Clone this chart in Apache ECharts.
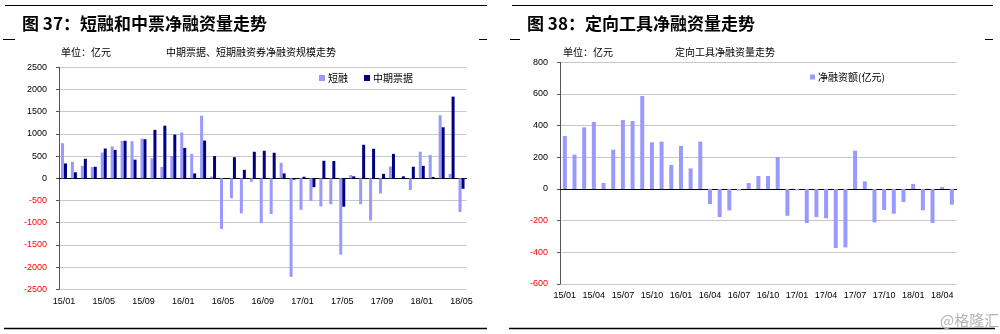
<!DOCTYPE html>
<html>
<head>
<meta charset="utf-8">
<script src="https://cdn.jsdelivr.net/npm/echarts@6/dist/echarts.min.js"></script>
<style>
  html, body { margin: 0; padding: 0; background: #fff; }
  #chart { width: 1000px; height: 334px; }
</style>
</head>
<body>
<div id="chart"></div>
<script>
// months 2015/01 - 2018/05
const months = [
  '15/01','15/02','15/03','15/04','15/05','15/06','15/07','15/08','15/09','15/10','15/11','15/12',
  '16/01','16/02','16/03','16/04','16/05','16/06','16/07','16/08','16/09','16/10','16/11','16/12',
  '17/01','17/02','17/03','17/04','17/05','17/06','17/07','17/08','17/09','17/10','17/11','17/12',
  '18/01','18/02','18/03','18/04','18/05'
];

// 图37: 短融 / 中期票据 net financing (亿元)
const shortNet = [790,370,280,255,580,720,845,835,895,450,255,500,1030,550,1410,40,-1140,-450,-790,-80,
  -1010,-805,350,-2220,-710,-510,-635,-585,-1720,75,-585,-950,-340,265,0,-265,600,525,1420,100,-760];
const mtnNet = [335,135,440,260,670,640,845,420,880,1090,1185,985,685,110,850,500,0,475,190,598,
  620,575,110,-30,35,-200,395,390,-640,45,755,665,100,550,45,260,280,30,1150,1840,-235];

// 图38: 定向工具 net financing (亿元)
const directNet = [335,217,389,423,38,248,436,429,587,295,299,152,272,130,299,-95,-177,-135,-9,38,
  82,82,202,-169,-8,-215,-177,-185,-373,-369,242,48,-211,-133,-156,-82,32,-135,-215,13,-99];

const CJK = '"Noto Sans CJK SC", sans-serif';
const NUM = '"Liberation Sans", Arial, sans-serif';
const LIGHT = '#9999ff';
const DARK = '#000080';

const negRed = v => (Number(v) < 0 ? '#ff0000' : '#000000');

function zeroAxis(grid, every) {
  return {
    gridIndex: grid, type: 'category', data: months, position: 'bottom',
    axisLine: { onZero: true, lineStyle: { color: '#000', width: 1 } },
    axisTick: { inside: true, length: 3, interval: every, lineStyle: { color: '#000' } },
    axisLabel: { show: false }
  };
}
function labelAxis(grid, every, margin) {
  return {
    gridIndex: grid, type: 'category', data: months, position: 'bottom',
    axisLine: { show: false, onZero: false },
    axisTick: { show: false },
    axisLabel: { interval: every, fontSize: 9, fontFamily: NUM, color: '#000', margin: margin }
  };
}
function valueAxis(grid, min, max, step) {
  return {
    gridIndex: grid, type: 'value', min: min, max: max, interval: step,
    axisLine: { show: true, lineStyle: { color: '#555', width: 1 } },
    axisTick: { show: true, length: 3, lineStyle: { color: '#555' } },
    splitLine: { lineStyle: { color: '#c8c8c8', width: 1.2 } },
    axisLabel: { fontSize: 9, fontFamily: NUM, margin: 12, color: negRed,
      formatter: v => String(v) }
  };
}

const line = (x1, y1, x2, y2, w) => ({
  type: 'line', silent: true,
  shape: { x1: x1, y1: y1, x2: x2, y2: y2 },
  style: { stroke: '#000', lineWidth: w }
});
const text = (x, y, s, font, fill) => ({
  type: 'text', silent: true, x: x, y: y,
  style: { text: s, font: font, fill: fill || '#000', textVerticalAlign: 'middle' }
});

const chart = echarts.init(document.getElementById('chart'), null, { renderer: 'canvas' });

chart.setOption({
  animation: false,
  backgroundColor: '#fff',
  textStyle: { fontFamily: NUM },
  grid: [
    { left: 59, top: 67.3, width: 407.5, height: 222 },
    { left: 560, top: 62.3, width: 396.7, height: 221.7 }
  ],
  legend: [
    {
      data: ['短融', '中期票据'], left: 319, top: 73, padding: 0,
      icon: 'rect', itemWidth: 6, itemHeight: 6, itemGap: 16,
      textStyle: { fontSize: 10, fontFamily: CJK, color: '#000', padding: [0, 0, 0, -2] }
    },
    {
      data: ['净融资额(亿元)'], left: 810, top: 72, padding: 0,
      icon: 'rect', itemWidth: 5, itemHeight: 5,
      textStyle: { fontSize: 10, fontFamily: CJK, color: '#000', padding: [0, 0, 0, -2] }
    }
  ],
  xAxis: [
    zeroAxis(0, 3),
    labelAxis(0, 3, 8),
    zeroAxis(1, 3),
    labelAxis(1, 2, 7)
  ],
  yAxis: [
    valueAxis(0, -2500, 2500, 500),
    valueAxis(1, -600, 800, 200)
  ],
  series: [
    { name: '短融', type: 'bar', xAxisIndex: 0, yAxisIndex: 0, data: shortNet,
      barWidth: 3, barGap: '0%', itemStyle: { color: LIGHT } },
    { name: '中期票据', type: 'bar', xAxisIndex: 0, yAxisIndex: 0, data: mtnNet,
      barWidth: 3, barGap: '0%', itemStyle: { color: DARK } },
    { name: '净融资额(亿元)', type: 'bar', xAxisIndex: 2, yAxisIndex: 1, data: directNet,
      barWidth: 4, itemStyle: { color: LIGHT } }
  ],
  graphic: [
    // left panel frame
    line(5, 5.5, 487, 5.5, 1),
    line(3, 39.5, 15, 39.5, 1),
    line(479, 39.5, 487, 39.5, 1),
    line(4, 328.5, 487, 328.5, 1.5),
    text(22, 23.5, '图 37：短融和中票净融资量走势', 'bold 17px ' + CJK),
    text(61, 52, '单位：亿元', '10px ' + CJK),
    text(166, 52, '中期票据、短期融资券净融资规模走势', '10px ' + CJK),
    // right panel frame
    line(512, 5.5, 993, 5.5, 1),
    line(510, 39.5, 520, 39.5, 1),
    line(985, 39.5, 993, 39.5, 1),
    line(509, 328.5, 995, 328.5, 1.5),
    text(527, 23.5, '图 38：定向工具净融资量走势', 'bold 17px ' + CJK),
    text(563, 52, '单位：亿元', '10px ' + CJK),
    text(675, 52, '定向工具净融资量走势', '10px ' + CJK),
    // watermark
    text(940, 320, '@格隆汇', '15px ' + CJK, '#b4b4b4')
  ]
});
</script>
</body>
</html>
